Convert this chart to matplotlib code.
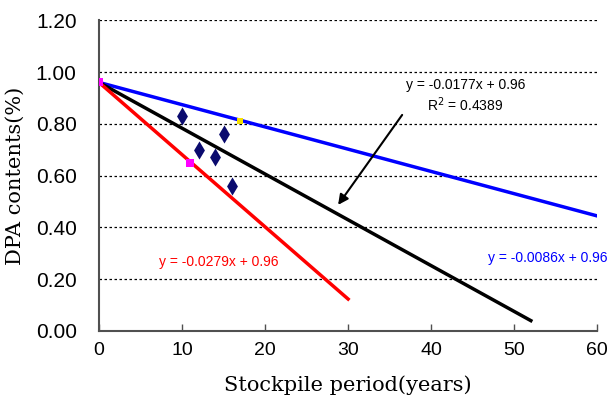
import numpy as np
import matplotlib
matplotlib.use("Agg")
import matplotlib.pyplot as plt

# ---- data ----
obs_x = [10, 12, 14, 15, 16]
obs_y = [0.83, 0.70, 0.67, 0.76, 0.56]
red_pt_x = [0, 11]
red_pt_y = [0.96, 0.65]
blue_pt_x = [0, 17]
blue_pt_y = [0.96, 0.81]

intercept = 0.96
slope_black, end_black = -0.0177, 52
slope_red, end_red = -0.0279, 30
slope_blue, end_blue = -0.0086, 60

xticks = [0, 10, 20, 30, 40, 50, 60]
yticks = [0.0, 0.2, 0.4, 0.6, 0.8, 1.0, 1.2]

sans = "Liberation Sans"
serif = "DejaVu Serif"

fig = plt.figure(figsize=(6.07, 4.05), dpi=100)
ax = fig.add_axes([0.163, 0.183, 0.821, 0.767])

# fitted lines
for s, end, c in [(slope_blue, end_blue, "blue"), (slope_black, end_black, "black"),
                  (slope_red, end_red, "red")]:
    xs = np.array([0, end])
    ax.plot(xs, intercept + s * xs, color=c, lw=2.5, zorder=3)

ax.scatter(obs_x, obs_y, marker="d", s=85, color="#0a0a6e", linewidths=0, zorder=4)
ax.scatter(blue_pt_x, blue_pt_y, marker="s", s=22, color="#f5e000", linewidths=0, zorder=4)
ax.scatter(red_pt_x, red_pt_y, marker="s", s=28, color="#ff00ff", linewidths=0, zorder=5)

# equations
ax.text(44.1, 0.95, "y = -0.0177x + 0.96", fontsize=10, family=sans, ha="center", va="center")
ax.text(44.1, 0.875, "R$^2$ = 0.4389", fontsize=10, family=sans, ha="center", va="center")
ax.text(14.4, 0.265, "y = -0.0279x + 0.96", fontsize=10, family=sans, color="red",
        ha="center", va="center")
ax.text(54.0, 0.283, "y = -0.0086x + 0.96", fontsize=10, family=sans, color="blue",
        ha="center", va="center")
ax.annotate("", xy=(28.6, 0.478), xytext=(36.7, 0.843),
            arrowprops=dict(arrowstyle="-|>", color="black", lw=1.5, mutation_scale=15))

ax.set_xlim(0, 60)
ax.set_ylim(0, 1.2)
ax.set_xticks(xticks)
ax.set_yticks(yticks)
ax.set_xticklabels([str(t) for t in xticks], family=sans, fontsize=14)
ax.set_yticklabels([f"{t:.2f}" for t in yticks], family=sans, fontsize=15)
ax.tick_params(axis="x", direction="in", length=5, width=1, color="#505050", pad=8)
ax.tick_params(axis="y", length=0, pad=16)
ax.yaxis.grid(True, linestyle=(0, (2, 2)), color="black", lw=0.9)
ax.set_axisbelow(True)
for side in ["top", "right"]:
    ax.spines[side].set_visible(False)
for side in ["left", "bottom"]:
    ax.spines[side].set_color("#505050")
    ax.spines[side].set_linewidth(1.5)

ax.set_xlabel("Stockpile period(years)", family=serif, fontsize=15, labelpad=12)
ax.set_ylabel("DPA contents(%)", family=serif, fontsize=15, labelpad=8)

fig.savefig("out.png", dpi=100)
